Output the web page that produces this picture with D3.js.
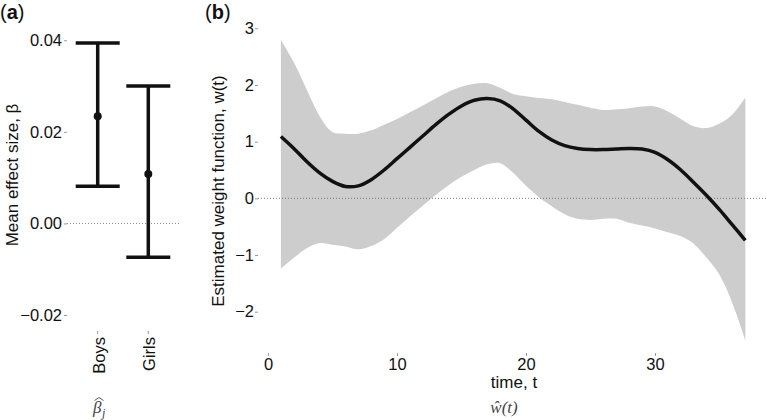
<!DOCTYPE html>
<html><head><meta charset="utf-8">
<script src="https://cdn.jsdelivr.net/npm/d3@7"></script>
<style>
body{margin:0;background:#fff;}
svg text{font-family:"Liberation Sans",Arial,Helvetica,sans-serif;}
</style></head>
<body><svg id="c" width="767" height="420"></svg>
<script>
// Panel (a) data
const groups = ["Boys", "Girls"];
const betaMean = [0.0234, 0.0108];
const betaLower = [0.0081, -0.0074];
const betaUpper = [0.0394, 0.0300];
const betaTicks = [-0.02, 0.00, 0.02, 0.04];

// Panel (b) data
const timeT = [1,2,3,4,5,6,7,8,9,10,11,12,13,14,15,16,17,18,19,20,21,22,23,24,25,26,27,28,29,30,31,32,33,34,35,36,37];
const wMean = [1.09,0.88,0.65,0.45,0.30,0.21,0.22,0.33,0.50,0.70,0.90,1.10,1.30,1.48,1.63,1.73,1.76,1.72,1.58,1.38,1.18,1.03,0.93,0.88,0.86,0.86,0.87,0.88,0.87,0.81,0.68,0.50,0.28,0.05,-0.20,-0.47,-0.74];
const wUpper = [2.80,2.40,1.92,1.45,1.17,1.14,1.14,1.20,1.30,1.40,1.52,1.64,1.76,1.88,1.97,2.02,2.03,1.95,1.84,1.80,1.77,1.75,1.70,1.65,1.60,1.56,1.57,1.59,1.62,1.62,1.53,1.40,1.27,1.24,1.32,1.48,1.78];
const wLower = [-1.24,-1.05,-0.88,-0.79,-0.82,-0.85,-0.90,-0.84,-0.72,-0.52,-0.32,-0.13,0.06,0.23,0.38,0.50,0.60,0.62,0.45,0.22,0.02,-0.14,-0.28,-0.36,-0.38,-0.36,-0.36,-0.43,-0.48,-0.53,-0.60,-0.67,-0.80,-1.05,-1.35,-1.85,-2.50];
const wYTicks = [-2,-1,0,1,2,3];
const tTicks = [0,10,20,30];

const svg = d3.select("#c");
const tickCol = "#999";
const serif = "'Liberation Serif','DejaVu Serif',serif";

// ---------- Panel (a) ----------
const xa = d3.scalePoint().domain(groups).range([97.7, 148.3]);
const ya = d3.scaleLinear().domain([-0.02, 0.04]).range([315, 40.3]);

const gaAxis = svg.append("g").attr("transform","translate(67,0)")
  .call(d3.axisLeft(ya).tickValues(betaTicks).tickSize(3).tickPadding(2).tickFormat(d3.format(".2f")));
gaAxis.select(".domain").remove();
gaAxis.selectAll(".tick line").attr("stroke", tickCol);
gaAxis.selectAll(".tick text").attr("font-size", 16.5).attr("fill","#111")
  .style("font-family","'Liberation Sans',Arial,sans-serif");

svg.append("line").attr("x1",67).attr("x2",180).attr("y1",ya(0)).attr("y2",ya(0))
  .attr("stroke","#888").attr("stroke-width",1).attr("stroke-dasharray","1,2");

const capW = 22;
groups.forEach((g,i)=>{
  const x = xa(g);
  svg.append("line").attr("x1",x).attr("x2",x).attr("y1",ya(betaUpper[i])).attr("y2",ya(betaLower[i]))
    .attr("stroke","#111").attr("stroke-width",3.5);
  [betaUpper[i], betaLower[i]].forEach(v=>{
    svg.append("line").attr("x1",x-capW).attr("x2",x+capW).attr("y1",ya(v)).attr("y2",ya(v))
      .attr("stroke","#111").attr("stroke-width",3.5);
  });
  svg.append("circle").attr("cx",x).attr("cy",ya(betaMean[i])).attr("r",4).attr("fill","#111");
  svg.append("line").attr("x1",x).attr("x2",x).attr("y1",331).attr("y2",334).attr("stroke",tickCol);
  svg.append("text").attr("transform",`translate(${x+1},337) rotate(-90)`)
    .attr("text-anchor","end").attr("dy","0.36em").attr("font-size",16.5).attr("fill","#111").text(g);
});

svg.append("text").attr("transform","translate(18,175) rotate(-90)").attr("text-anchor","middle")
  .attr("font-size",17).attr("fill","#111").text("Mean effect size, β");

const pa = svg.append("text").attr("x",0).attr("y",19).attr("font-size",20).attr("fill","#111");
pa.append("tspan").text("(");
pa.append("tspan").attr("font-weight","bold").text("a");
pa.append("tspan").text(")");

// beta-hat_j label
const ma = svg.append("text").attr("x",93).attr("y",413)
  .attr("font-size",17).attr("fill","#444").style("font-family",serif).attr("font-style","italic");
ma.append("tspan").text("β");
ma.append("tspan").attr("dx",0.5).attr("dy",4).attr("font-size",12).text("j");
// the hat accent over beta
svg.append("path").attr("d","M94.5,400.5 L99,397.5 L103.5,400.5")
  .attr("fill","none").attr("stroke","#444").attr("stroke-width",0.9);

// ---------- Panel (b) ----------
const xb = d3.scaleLinear().domain([0,30]).range([268, 655]);
const yb = d3.scaleLinear().domain([-2,3]).range([311.7, 28.3]);

const bandData = timeT.map((t,i)=>({t, lo:wLower[i], hi:wUpper[i], m:wMean[i]}));
svg.append("path").datum(bandData)
  .attr("d", d3.area().x(d=>xb(d.t)).y0(d=>yb(d.lo)).y1(d=>yb(d.hi)).curve(d3.curveCatmullRom))
  .attr("fill","#cdcdcd");

svg.append("line").attr("x1",258).attr("x2",767).attr("y1",yb(0)).attr("y2",yb(0))
  .attr("stroke","#777").attr("stroke-width",1).attr("stroke-dasharray","1,2");

svg.append("path").datum(bandData)
  .attr("d", d3.line().x(d=>xb(d.t)).y(d=>yb(d.m)).curve(d3.curveCatmullRom))
  .attr("fill","none").attr("stroke","#111").attr("stroke-width",3.5);

const gbY = svg.append("g").attr("transform","translate(258,0)")
  .call(d3.axisLeft(yb).tickValues(wYTicks).tickSize(3).tickPadding(1).tickFormat(d3.format("d")));
gbY.select(".domain").remove();
gbY.selectAll(".tick line").attr("stroke", tickCol);
gbY.selectAll(".tick text").attr("font-size",16.5).attr("fill","#111")
  .style("font-family","'Liberation Sans',Arial,sans-serif");

const gbX = svg.append("g").attr("transform","translate(0,353)")
  .call(d3.axisBottom(xb).tickValues(tTicks).tickSize(3).tickPadding(2).tickFormat(d3.format("d")));
gbX.select(".domain").remove();
gbX.selectAll(".tick line").attr("stroke", tickCol);
gbX.selectAll(".tick text").attr("font-size",16.5).attr("fill","#111")
  .style("font-family","'Liberation Sans',Arial,sans-serif");

svg.append("text").attr("x",514).attr("y",388).attr("text-anchor","middle")
  .attr("font-size",17).attr("fill","#111").text("time, t");

svg.append("text").attr("transform","translate(224,191) rotate(-90)").attr("text-anchor","middle")
  .attr("font-size",17).attr("fill","#111").text("Estimated weight function, w(t)");

const pb = svg.append("text").attr("x",205).attr("y",19).attr("font-size",20).attr("fill","#111");
pb.append("tspan").text("(");
pb.append("tspan").attr("font-weight","bold").text("b");
pb.append("tspan").text(")");

svg.append("text").attr("x",504).attr("y",413).attr("text-anchor","middle")
  .attr("font-size",17).attr("fill","#444").style("font-family",serif)
  .attr("font-style","italic").text("\u0175(t)");
</script></body></html>
